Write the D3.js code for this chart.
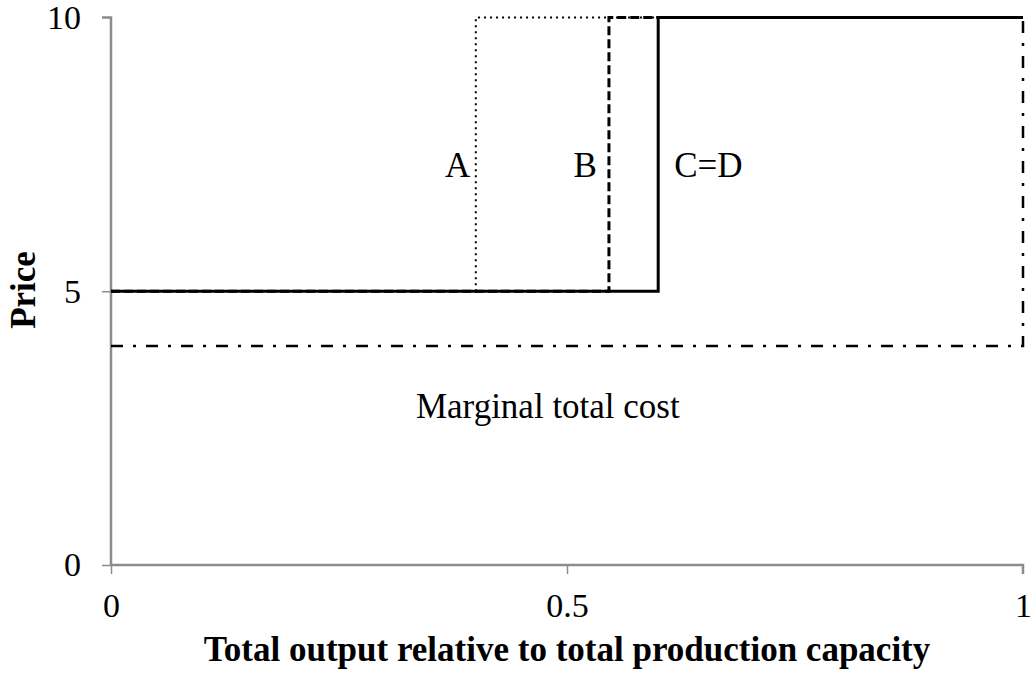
<!DOCTYPE html>
<html>
<head>
<meta charset="utf-8">
<script src="https://cdn.jsdelivr.net/npm/d3@7"></script>
<style>
body{margin:0;background:#fff;}
text{font-family:"Liberation Serif","Times New Roman",serif;fill:#000;}
</style>
</head>
<body>
<svg id="chart" width="1031" height="673"></svg>
<script>
// data
var xTicks = [0, 0.5, 1];
var yTicks = [0, 5, 10];
var lineA = [[0.4, 5], [0.4, 10], [1, 10]];
var lineB = [[0, 5], [0.546, 5], [0.546, 10], [1, 10]];
var lineCD = [[0, 5], [0.6, 5], [0.6, 10], [1, 10]];
var costLine = [[0, 4], [1, 4], [1, 10]];
var labels = [
    {t: "A", x: 0.38, y: 7.09},
    {t: "B", x: 0.52, y: 7.09},
    {t: "C=D", x: 0.655, y: 7.09},
    {t: "Marginal total cost", x: 0.479, y: 2.68}
];

var svg = d3.select("#chart");
var x = d3.scaleLinear().domain([0, 1]).range([111, 1023]);
var y = d3.scaleLinear().domain([0, 10]).range([565, 17.5]);

var line = d3.line().x(function(d){return x(d[0]);}).y(function(d){return y(d[1]);});

// axes
var xAxis = svg.append("g").attr("transform", "translate(0," + y(0) + ")")
    .call(d3.axisBottom(x).tickValues(xTicks).tickSize(9).tickFormat(d3.format("")));
var yAxis = svg.append("g").attr("transform", "translate(" + x(0) + ",0)")
    .call(d3.axisLeft(y).tickValues(yTicks).tickSize(9).tickPadding(21).tickFormat(d3.format("")));
[xAxis, yAxis].forEach(function(a){
    a.select(".domain").attr("stroke", "#8c8c8c").attr("stroke-width", 2.5).attr("d",
        a === xAxis ? "M" + x(0) + ",0H" + x(1) + "V9" : "M-9," + y(10) + "H0V" + y(0));
    a.selectAll(".tick line").attr("stroke", "#8c8c8c").attr("stroke-width", 1.5);
    a.selectAll(".tick text").style("font-family", "Liberation Serif").style("font-size", "34px").attr("fill", "#000");
});
xAxis.selectAll(".tick text").attr("y", 52).attr("dy", null);
yAxis.selectAll(".tick").filter(function(d){return d == 10;}).select("line").remove();
xAxis.selectAll(".tick").filter(function(d){return d == 1;}).select("line").remove();

// lines
svg.append("path").datum(costLine).attr("d", line).attr("fill", "none")
    .attr("stroke", "#000").attr("stroke-width", 2.5).attr("stroke-dasharray", "12,10,3,10");
svg.append("path").datum(lineA).attr("d", line).attr("fill", "none")
    .attr("stroke", "#000").attr("stroke-width", 2).attr("stroke-dasharray", "2,4");
svg.append("path").datum(lineB).attr("d", line).attr("fill", "none")
    .attr("stroke", "#000").attr("stroke-width", 3).attr("stroke-dasharray", "9,4");
svg.append("path").datum(lineCD).attr("d", line).attr("fill", "none")
    .attr("stroke", "#000").attr("stroke-width", 3);

// labels
svg.selectAll(".lbl").data(labels).enter().append("text").attr("class", "lbl")
    .attr("x", function(d){return x(d.x);}).attr("y", function(d){return y(d.y);})
    .attr("text-anchor", "middle")
    .style("font-size", "35px").text(function(d){return d.t;});

// axis titles
svg.append("text").attr("x", x(0.5)).attr("y", 661).attr("text-anchor", "middle")
    .style("font-size", "35px").style("font-weight", "bold")
    .text("Total output relative to total production capacity");
svg.append("text").attr("transform", "translate(35," + 290 + ") rotate(-90)").attr("text-anchor", "middle")
    .style("font-size", "35px").style("font-weight", "bold").text("Price");
</script>
</body>
</html>
